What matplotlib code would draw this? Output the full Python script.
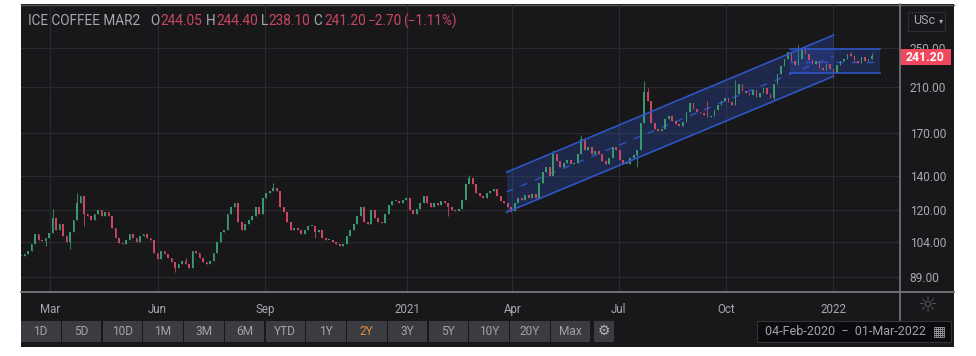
import pandas as pd
import matplotlib
matplotlib.use('Agg')
import matplotlib.pyplot as plt
import matplotlib.dates as mdates
from matplotlib.patches import Rectangle

plt.rcParams['font.family'] = ['Roboto', 'DejaVu Sans']

# closes, one candle every 3 calendar days
closes = [
    97.5, 98.5, 100, 103, 108, 105, 104.5, 106, 108.5, 116, 110, 113, 107, 104, 109, 115, 124, 128, 118, 117,
    115, 118, 120, 117, 119, 117, 111, 106, 103.5, 103, 105, 108, 106, 104, 107, 108, 106, 105, 99, 96.5,
    100, 98.5, 97, 95, 92.5, 94, 95.5, 94, 92.5, 100, 99, 97, 95, 94, 95.5, 99, 104, 109, 110, 118,
    122, 124, 114, 110, 113, 115, 117, 122, 118, 127, 130, 131, 133, 131, 122, 119, 114, 110, 111, 110,
    108, 110, 112, 112, 109, 110, 106, 105, 105, 104, 103, 102, 103, 107, 110, 113, 117, 122, 114, 113,
    120, 116, 114, 113.5, 118, 123, 125, 125, 124, 126, 127, 120, 118, 121, 124, 128, 124, 122, 124, 123,
    125, 124, 122, 120, 119.5, 121, 126, 135, 139, 135, 130, 128, 127, 130, 131, 132, 128, 125, 124, 122,
    119.5, 124, 127, 126, 128.5, 127, 129, 127, 136, 143, 146, 140, 155, 150, 146, 149, 151, 148, 149, 155,
    166, 158, 160, 155, 157, 155, 150, 148, 152, 160, 158, 151, 148, 148, 152, 154, 158, 178, 205, 197,
    178, 173, 172, 173, 181, 184, 180, 177, 176, 179, 187, 195, 190, 187, 186, 185, 183, 184, 189, 193,
    197, 199, 196, 193, 203, 212, 206, 204, 202, 207, 200, 204, 209, 203, 199, 212, 222, 230, 238, 246,
    236, 232, 238, 250, 243, 237, 233, 236, 228, 226, 233, 227, 223, 231, 236, 238, 243, 241, 236, 234,
    240, 236, 238, 241.2,
]
# the wicks that stand out, by candle number
wick_highs = {9: 121, 16: 130, 47: 97, 72: 136, 128: 141, 152: 158, 160: 169, 178: 215, 179: 209,
              196: 197, 204: 216, 222: 253, 237: 246, 243: 244.4}
wick_lows = {7: 102, 14: 101, 18: 112, 44: 91, 84: 106, 122: 117, 140: 119, 176: 146, 215: 197, 232: 219, 243: 238.1}

price_ticks = [89, 104, 120, 140, 170, 210, 250]
month_ticks = ['2020-03-01', '2020-06-01', '2020-09-01', '2021-01-01', '2021-04-01', '2021-07-01', '2021-10-01', '2022-01-01']
month_labels = ['Mar', 'Jun', 'Sep', '2021', 'Apr', 'Jul', 'Oct', '2022']
buttons = ['1D', '5D', '10D', '1M', '3M', '6M', 'YTD', '1Y', '2Y', '3Y', '5Y', '10Y', '20Y', 'Max']

channel_dates = ['2021-03-27', '2022-01-01']
channel_top = [142.6, 265]
channel_mid = [130.5, 241]
channel_bottom = [119, 220]
box_dates = ['2021-11-25', '2022-02-10']
box_top = 249
box_mid = 235
box_bottom = 223

bg = '#18181b'
green = '#38996f'
red = '#c9475f'
blue = '#2f55c4'

fig = plt.figure(figsize=(9.76, 3.56), dpi=100, facecolor='white')


def px_axes(z):
    a = fig.add_axes([0, 0, 1, 1], zorder=z)
    a.set_xlim(0, 976)
    a.set_ylim(356, 0)
    a.axis('off')
    return a


under = px_axes(0)
under.add_patch(Rectangle((21, 4), 933, 343, color=bg, lw=0))
under.plot([21, 954], [4.5, 4.5], color='#55565a', lw=1)

# price axes, log scale like the original
ax = fig.add_axes([21 / 976, 1 - 292 / 356, 879 / 976, 288 / 356], zorder=1)
ax.patch.set_alpha(0)
ax.set_yscale('log')
ax.set_ylim(83, 305)
ax.set_xlim(pd.Timestamp('2020-02-05'), pd.Timestamp('2022-02-27'))

dates = pd.date_range('2020-02-05', periods=len(closes), freq='3D')
nums = mdates.date2num(dates)
for i, c in enumerate(closes):
    o = closes[i - 1] if i > 0 else c
    col = green if c >= o else red
    hi = wick_highs.get(i, max(o, c))
    lo = wick_lows.get(i, min(o, c))
    ax.vlines(nums[i], lo, hi, color=col, lw=0.6, zorder=3)
    ax.bar(nums[i], max(abs(c - o), 0.6), bottom=min(o, c), width=1.5, color=col, lw=0, zorder=3)

# trend channel and the box on the right
cx = mdates.date2num(pd.to_datetime(channel_dates))
ax.fill_between(cx, channel_bottom, channel_top, color=blue, alpha=0.28, lw=0, zorder=2)
ax.plot(cx, channel_top, color=blue, lw=1.2, zorder=4)
ax.plot(cx, channel_bottom, color=blue, lw=1.2, zorder=4)
ax.plot(cx, channel_mid, color=blue, lw=1, ls=(0, (5, 6)), zorder=2)
bx = mdates.date2num(pd.to_datetime(box_dates))
ax.fill_between(bx, box_bottom, box_top, color=blue, alpha=0.28, lw=0, zorder=2)
ax.plot(bx, [box_top, box_top], color=blue, lw=1.2, zorder=4)
ax.plot(bx, [box_bottom, box_bottom], color=blue, lw=1.2, zorder=4)
ax.plot(bx, [box_mid, box_mid], color=blue, lw=1, ls=(0, (5, 6)), zorder=2)

ax.yaxis.tick_right()
ax.set_yticks(price_ticks)
ax.set_yticklabels([f'{p:.2f}' for p in price_ticks])
ax.minorticks_off()
ax.set_xticks(mdates.date2num(pd.to_datetime(month_ticks)))
ax.set_xticklabels(month_labels)
ax.tick_params(axis='y', length=0, pad=7, labelsize=8.6, labelcolor='#a9a9ad')
ax.tick_params(axis='x', length=0, pad=8, labelsize=8.3, labelcolor='#a9a9ad')
ax.grid(True, color='#2b2b2f', lw=0.8, zorder=0)
ax.set_axisbelow(True)
for s in ax.spines.values():
    s.set_visible(False)

top = px_axes(2)
top.plot([21, 954], [292, 292], color='#77787c', lw=1.3)
top.plot([900, 900], [4, 320], color='#77787c', lw=1.2)

# header
head = [(28, 'ICE COFFEE MAR2', '#a9a9ad'), (150, 'O', '#a9a9ad'), (160, '244.05', red), (206, 'H', '#a9a9ad'),
        (216, '244.40', red), (261, 'L', '#a9a9ad'), (268, '238.10', red), (313, 'C', '#a9a9ad'),
        (324, '241.20', red), (368, '\u22122.70', red), (403, '(\u22121.11%)', red)]
for x, t, col in head:
    top.text(x, 21, t, color=col, fontsize=9.8, va='center', ha='left')

# currency box and last price tag
top.add_patch(plt.Rectangle((908, 12), 37, 19, fc=bg, ec='#2e2e32', lw=0.8))
top.text(913, 21, 'USc', color='#a9a9ad', fontsize=9, va='center')
top.text(939, 21, '\u25be', color='#a9a9ad', fontsize=6, va='center', family='DejaVu Sans')
top.add_patch(Rectangle((900, 49), 51, 16, color='#f0475c', lw=0))
top.text(925.5, 57.5, '241.20', color='white', fontsize=8.8, fontweight='bold', ha='center', va='center')
top.text(927, 306, '\u263c', color='#55565a', fontsize=16, ha='center', va='center', family='DejaVu Sans')

# range buttons
for i, b in enumerate(buttons):
    x0 = 21 + i * 40.75
    top.add_patch(Rectangle((x0, 321), 39.5, 21, color='#3b3c41', lw=0))
    top.text(x0 + 19.7, 331.5, b, color='#e58a3c' if b == '2Y' else '#a2a3a8', fontsize=8.6, ha='center', va='center')
top.add_patch(Rectangle((594, 321), 20, 21, color='#3b3c41', lw=0))
top.text(604, 331, '\u2699', color='#b5b6ba', fontsize=10, ha='center', va='center', family='DejaVu Sans')

# date range box
top.add_patch(plt.Rectangle((757, 321), 194, 21, fc='#0b0b0d', ec='#333438', lw=0.8))
top.text(765, 331.5, '04-Feb-2020  \u2212  01-Mar-2022', color='#a2a3a8', fontsize=9, va='center')
top.text(939, 331.5, '\u25a6', color='#a2a3a8', fontsize=10, ha='center', va='center', family='DejaVu Sans')

fig.savefig('out.png', dpi=100, facecolor='white')
